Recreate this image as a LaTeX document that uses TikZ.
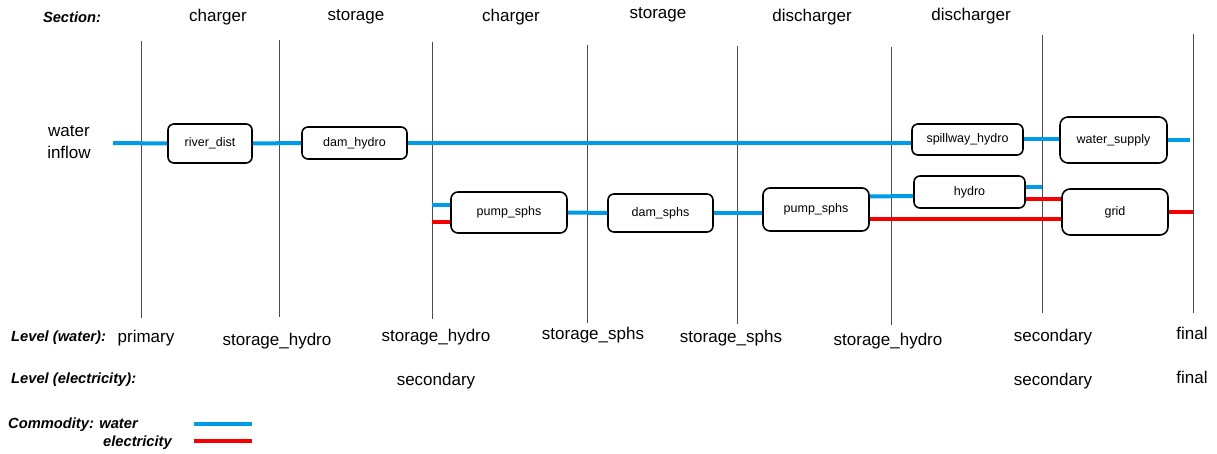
\documentclass[tikz,border=0pt]{standalone}
\usepackage{fontspec}
\setmainfont{Liberation Sans}
\definecolor{waterblue}{RGB}{0,155,230}
\definecolor{elecred}{RGB}{245,0,0}
\begin{document}
\begin{tikzpicture}[x=1pt, y=-1pt,
    unit/.style={draw, line width=1.6pt, rounded corners=6pt, inner sep=0pt, font=\fontsize{12.5}{14}\selectfont},
    lbl/.style={inner sep=0pt, font=\fontsize{17}{22}\selectfont},
    head/.style={inner sep=0pt, font=\fontsize{14.7}{17}\selectfont\bfseries\itshape},
    sep/.style={draw=black!70, line width=0.9pt},
    water/.style={draw=waterblue, line width=4pt},
    elec/.style={draw=elecred, line width=4pt}]
        \useasboundingbox (0,0) rectangle (1217,454);

        \foreach \x/\t/\b in {141/41/318, 279/40/317, 432/42/319, 587/45/323,
                              737/46/324, 891/47/325, 1042/35/313, 1193/34/313}
            \draw[sep] (\x,\t) -- (\x,\b);

        \node[head] (sec) at (72,17) {Section:};
        \node[lbl] (s1) at (218,17) {charger};
        \node[lbl] (s2) at (356,17) {storage};
        \node[lbl] (s3) at (511,17) {charger};
        \node[lbl] (s4) at (658,15) {storage};
        \node[lbl] (s5) at (812,17) {discharger};
        \node[lbl] (s6) at (971,16) {discharger};

        \node[lbl, align=center] (inflow) at (69,142) {water\\inflow};

        \node[unit, minimum width=84pt, minimum height=39pt] (river) at (210,143.5) {river\_dist};
        \node[unit, minimum width=105pt, minimum height=32pt] (damh) at (354.5,143) {dam\_hydro};
        \node[unit, minimum width=111pt, minimum height=31pt] (spill) at (967.5,139.5) {spillway\_hydro};
        \node[unit, minimum width=107pt, minimum height=46pt, rounded corners=8pt] (supply) at (1113.5,140) {water\_supply};
        \node[unit, minimum width=116pt, minimum height=41pt, rounded corners=7pt] (pump1) at (509,212.5) {pump\_sphs};
        \node[unit, minimum width=105pt, minimum height=38pt] (dams) at (660.5,213) {dam\_sphs};
        \node[unit, minimum width=106pt, minimum height=43pt, rounded corners=7pt] (pump2) at (816,209.5) {pump\_sphs};
        \node[unit, minimum width=111pt, minimum height=32pt] (hydro) at (969.5,192) {hydro};
        \node[unit, minimum width=106pt, minimum height=46pt, rounded corners=8pt] (grid) at (1115,212) {grid};

        \coordinate (win) at (113,143);
        \coordinate (wout) at (1190,140);
        \coordinate (pw) at (432,205);
        \coordinate (pe) at (432,222);
        \coordinate (hw) at (1042,187);
        \coordinate (ge) at (1193,212);

        \begin{scope}[every path/.style={water}]
        \draw (win) -- (river.west);
        \draw (river.east) -- (damh.west);
        \draw (damh.east) -- (damh.east -| spill.west);
        \draw (spill.east) -- (supply.west |- spill.east);
        \draw (supply.east) -- (wout);
        \draw (pw) -- (pump1.west |- pw);
        \draw (pump1.east) -- (dams.west);
        \draw (dams.east) -- (dams.east -| pump2.west);
        \draw ([yshift=13pt]pump2.east) -- ([yshift=-4pt]hydro.west);
        \draw ([yshift=5pt]hydro.east) -- (hw);
        \end{scope}

        \begin{scope}[every path/.style={elec}]
        \draw (pe) -- (pump1.west |- pe);
        \draw ([yshift=-7pt]hydro.east) -- ([yshift=13pt]grid.west);
        \draw ([yshift=-9.5pt]pump2.east) -- ([yshift=-7pt]grid.west);
        \draw (grid.east) -- (ge);
        \end{scope}

        \node[head, anchor=west] (lvw) at (11,338) {Level (water):};
        \node[lbl] (l1) at (146,338) {primary};
        \node[lbl] (l2) at (277,341) {storage\_hydro};
        \node[lbl] (l3) at (436,337) {storage\_hydro};
        \node[lbl] (l4) at (593,335) {storage\_sphs};
        \node[lbl] (l5) at (731,338) {storage\_sphs};
        \node[lbl] (l6) at (888,341) {storage\_hydro};
        \node[lbl] (l7) at (1053,337) {secondary};
        \node[lbl] (l8) at (1192,333) {final};

        \node[head, anchor=west] (lve) at (11,380) {Level (electricity):};
        \node[lbl] (e1) at (436,381) {secondary};
        \node[lbl] (e2) at (1053,381) {secondary};
        \node[lbl] (e3) at (1192,377) {final};

        \node[head, anchor=west] (com) at (8,425) {Commodity: water};
        \node[head, anchor=east] (comel) at (172,443) {electricity};
        \coordinate (kw1) at (194,424);
        \coordinate (kw2) at (252,424);
        \coordinate (ke1) at (194,441);
        \coordinate (ke2) at (252,441);
        \draw[water] (kw1) -- (kw2);
        \draw[elec] (ke1) -- (ke2);

        \end{tikzpicture}
\end{document}
